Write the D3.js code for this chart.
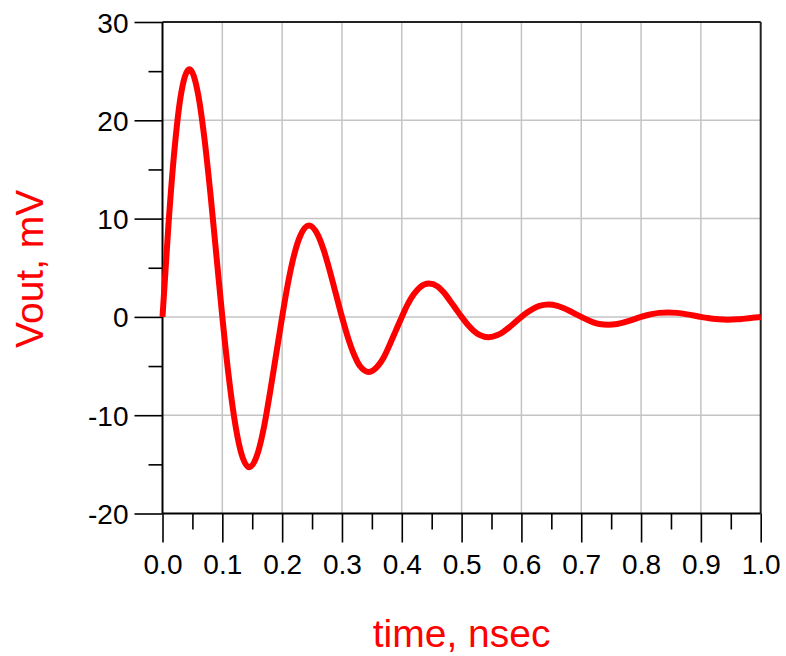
<!DOCTYPE html>
<html>
<head>
<meta charset="utf-8">
<script src="https://cdn.jsdelivr.net/npm/d3@7"></script>
<style>
  html, body { margin: 0; padding: 0; background: #fff; }
  svg { display: block; font-family: "Liberation Sans", Arial, sans-serif; }
</style>
</head>
<body>
<svg id="chart" width="786" height="656"></svg>
<script>
// ---- data ----
const timeNs = [
  0, 0.01, 0.02, 0.03, 0.045, 0.06, 0.07, 0.08, 0.09,
  0.10, 0.11, 0.12, 0.13, 0.145, 0.16, 0.17, 0.18, 0.19,
  0.20, 0.21, 0.22, 0.23, 0.245, 0.26, 0.27, 0.28, 0.29,
  0.30, 0.31, 0.32, 0.33, 0.345, 0.36, 0.37, 0.38, 0.39,
  0.40, 0.41, 0.42, 0.43, 0.445, 0.46, 0.47, 0.48, 0.49,
  0.50, 0.51, 0.52, 0.53, 0.545, 0.56, 0.57, 0.58, 0.59,
  0.60, 0.61, 0.62, 0.63, 0.645, 0.66, 0.67, 0.68, 0.69,
  0.70, 0.71, 0.72, 0.73, 0.745, 0.76, 0.77, 0.78, 0.79,
  0.80, 0.81, 0.82, 0.83, 0.845, 0.86, 0.87, 0.88, 0.89,
  0.90, 0.91, 0.92, 0.93, 0.945, 0.96, 0.97, 0.98, 0.99,
  1.00
];
const voutMv = [
  0, 9.4, 17.0, 22.3, 25.2, 22.5, 18.2, 12.6, 6.3,
  0, -5.7, -10.3, -13.5, -15.3, -13.7, -11.1, -7.6, -3.8,
  0, 3.5, 6.3, 8.2, 9.3, 8.3, 6.7, 4.6, 2.3,
  0, -2.1, -3.8, -5.0, -5.6, -5.0, -4.1, -2.8, -1.4,
  0, 1.3, 2.3, 3.0, 3.4, 3.1, 2.5, 1.7, 0.85,
  0, -0.77, -1.4, -1.83, -2.07, -1.85, -1.5, -1.04, -0.52,
  0, 0.47, 0.85, 1.11, 1.25, 1.12, 0.91, 0.63, 0.31,
  0, -0.3, -0.55, -0.72, -0.8, -0.72, -0.58, -0.4, -0.2,
  0, 0.17, 0.31, 0.41, 0.46, 0.41, 0.33, 0.23, 0.12,
  0, -0.1, -0.19, -0.25, -0.28, -0.25, -0.2, -0.14, -0.07,
  0
];
const xMajorTicks = [0, 0.1, 0.2, 0.3, 0.4, 0.5, 0.6, 0.7, 0.8, 0.9, 1.0];
const xMinorTicks = [0.05, 0.15, 0.25, 0.35, 0.45, 0.55, 0.65, 0.75, 0.85, 0.95];
const yMajorTicks = [-20, -10, 0, 10, 20, 30];
const yMinorTicks = [-15, -5, 5, 15, 25];
const xTitle = "time, nsec";
const yTitle = "Vout, mV";

// ---- layout ----
const W = 786, H = 656;
const margin = { left: 162.5, right: 25.3, top: 22, bottom: 142.5 };
const iw = W - margin.left - margin.right;
const ih = H - margin.top - margin.bottom;

const svg = d3.select("#chart");
const g = svg.append("g").attr("transform", `translate(${margin.left},${margin.top})`);

const x = d3.scaleLinear().domain([0, 1]).range([0, iw]);
const y = d3.scaleLinear().domain([-20, 30]).range([ih, 0]);

// grid
g.append("g").selectAll("line").data(xMajorTicks.slice(1, -1)).join("line")
  .attr("x1", d => x(d)).attr("x2", d => x(d)).attr("y1", 0).attr("y2", ih)
  .attr("stroke", "#c4c4c4").attr("stroke-width", 1.5);
g.append("g").selectAll("line").data(yMajorTicks.slice(1, -1)).join("line")
  .attr("y1", d => y(d)).attr("y2", d => y(d)).attr("x1", 0).attr("x2", iw)
  .attr("stroke", "#c4c4c4").attr("stroke-width", 1.5);

// frame (top + right)
g.append("line").attr("x1", 0).attr("x2", iw).attr("y1", 0).attr("y2", 0)
  .attr("stroke", "#222").attr("stroke-width", 2);
g.append("line").attr("x1", iw).attr("x2", iw).attr("y1", 0).attr("y2", ih)
  .attr("stroke", "#222").attr("stroke-width", 2);

// axes
const fmtX = d3.format(".1f");
const fmtY = d => String(d); // plain hyphen-minus, as in the reference
const xAxis = g.append("g").attr("transform", `translate(0,${ih})`)
  .call(d3.axisBottom(x).tickValues(xMajorTicks).tickFormat(fmtX).tickSize(29).tickPadding(12));
const xMinor = g.append("g").attr("transform", `translate(0,${ih})`)
  .call(d3.axisBottom(x).tickValues(xMinorTicks).tickFormat("").tickSize(16));
const yAxis = g.append("g")
  .call(d3.axisLeft(y).tickValues(yMajorTicks).tickFormat(fmtY).tickSize(28).tickPadding(6));
const yMinor = g.append("g")
  .call(d3.axisLeft(y).tickValues(yMinorTicks).tickFormat("").tickSize(14));

[xAxis, xMinor, yAxis, yMinor].forEach(a => {
  a.select(".domain").remove();
  a.selectAll(".tick line").attr("stroke", "#000").attr("stroke-width", 1.6);
  a.selectAll("text").attr("fill", "#000")
    .style("font-family", '"Liberation Sans", Arial, sans-serif');
});
xAxis.selectAll("text").style("font-size", "28px");
yAxis.selectAll("text").style("font-size", "28px").attr("dy", "0.36em");

// axis lines (left + bottom)
g.append("line").attr("x1", 0).attr("x2", 0).attr("y1", 0).attr("y2", ih)
  .attr("stroke", "#000").attr("stroke-width", 2);
g.append("line").attr("x1", 0).attr("x2", iw).attr("y1", ih).attr("y2", ih)
  .attr("stroke", "#000").attr("stroke-width", 2);

// curve
const pts = timeNs.map((t, i) => [t, voutMv[i]]);
const line = d3.line().x(d => x(d[0])).y(d => y(d[1])).curve(d3.curveMonotoneX);
g.append("path").datum(pts).attr("d", line)
  .attr("fill", "none").attr("stroke", "#ff0000").attr("stroke-width", 6)
  .attr("stroke-linejoin", "round").attr("stroke-linecap", "butt");

// titles
svg.append("text").attr("x", margin.left + iw / 2).attr("y", 647)
  .attr("text-anchor", "middle").attr("fill", "#ff0000")
  .style("font-size", "39px").text(xTitle);
svg.append("text").attr("transform", `translate(43,${margin.top + ih / 2 + 1}) rotate(-90)`)
  .attr("text-anchor", "middle").attr("fill", "#ff0000")
  .style("font-size", "39px").text(yTitle);
</script>
</body>
</html>
